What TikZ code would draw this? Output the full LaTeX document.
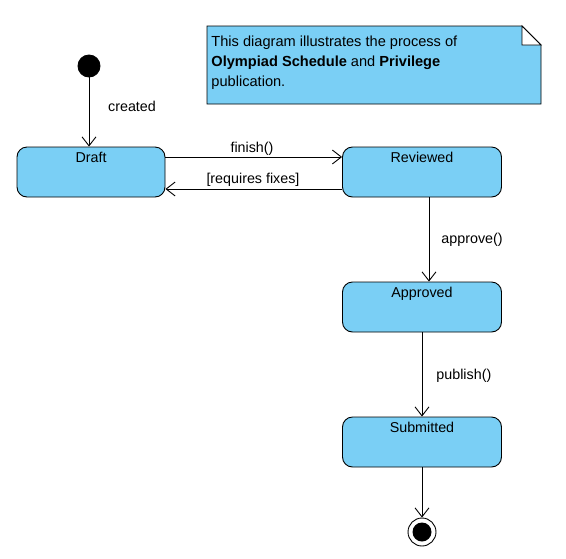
\documentclass[tikz,border=0pt]{standalone}
\usepackage{fontspec}
\setmainfont{Liberation Sans}
\usetikzlibrary{arrows.meta}
\definecolor{statefill}{RGB}{122,207,245}
\begin{document}
\begin{tikzpicture}[x=1pt, y=-1pt, line width=0.9pt,
    font=\fontsize{14.3}{16}\selectfont,
    state/.style={draw, rectangle, rounded corners=10pt, fill=statefill,
      minimum height=50pt, inner sep=0pt},
    trans/.style={-{Straight Barb[length=9pt, width=14pt]}},
    tlabel/.style={inner sep=1pt}]
    \useasboundingbox (0,0) rectangle (566,558);

    % note
    \draw[fill=statefill] (207,26) -- (522,26) -- (541,45) -- (541,104) -- (207,104) -- cycle;
    \draw[fill=white] (522,26) -- (522,45) -- (541,45) -- cycle;
    \node[anchor=north west, align=left, inner sep=0pt, font=\fontsize{14.6}{20}\selectfont] (note) at (211,35)
      {This diagram illustrates the process of\\ \textbf{Olympiad Schedule} and \textbf{Privilege}\\ publication.};

    % states
    \node[draw, circle, fill=black, minimum size=22pt, inner sep=0pt] (init) at (89,66) {};
    \node[state, minimum width=148pt, label={[anchor=north, yshift=-2pt]north:Draft}] (draft) at (91,172) {};
    \node[state, minimum width=159pt, label={[anchor=north, yshift=-2pt]north:Reviewed}] (reviewed) at (422,172) {};
    \node[state, minimum width=159pt, label={[anchor=north, yshift=-2pt]north:Approved}] (approved) at (422,307) {};
    \node[state, minimum width=159pt, label={[anchor=north, yshift=-2pt]north:Submitted}] (submitted) at (422,442) {};
    \node[draw, circle, fill=white, minimum size=28pt, inner sep=0pt] (final) at (422,532) {};
    \fill (final.center) circle (9.5pt);

    % transitions
    \draw[trans] (init) -- (init |- draft.north);
    \node[tlabel] (created) at (132,106) {created};

    \draw[trans] ([yshift=15pt]draft.east) -- ([yshift=15pt]reviewed.west);
    \node[tlabel] (finish) at (252,149) {finish()};
    \draw[trans] ([yshift=-17pt]reviewed.west) -- ([yshift=-17pt]draft.east);
    \node[tlabel] (fixes) at (253,180) {[requires fixes]};

    \draw[trans] ([xshift=7pt]reviewed.south) -- ([xshift=7pt]approved.north);
    \node[tlabel, anchor=west] (approve) at (440,240) {approve()};
    \draw[trans] (approved) -- (submitted);
    \node[tlabel, anchor=west] (publish) at (435,376) {publish()};
    \draw[trans] (submitted) -- (final);
\end{tikzpicture}
\end{document}
